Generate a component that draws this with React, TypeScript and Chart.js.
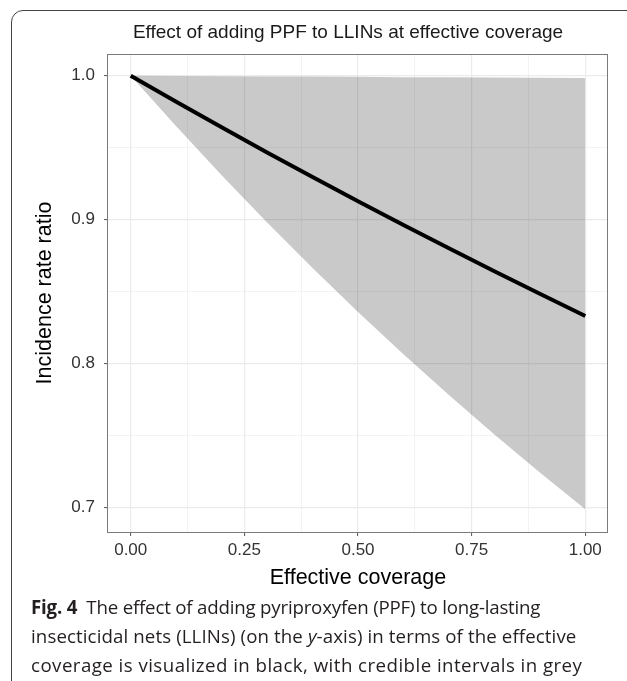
import React, { useEffect, useRef } from "react";
import { Chart, registerables } from "chart.js";

Chart.register(...registerables);

const chartTitle = "Effect of adding PPF to LLINs at effective coverage";
const xAxisTitle = "Effective coverage";
const yAxisTitle = "Incidence rate ratio";

const coverage = [0, 0.1, 0.2, 0.3, 0.4, 0.5, 0.6, 0.7, 0.8, 0.9, 1.0];
const irrMedian = [1.0, 0.9819, 0.9641, 0.9467, 0.9296, 0.9127, 0.8962, 0.88, 0.8641, 0.8484, 0.833];
const irrUpper = [1.0, 0.9998, 0.9997, 0.9995, 0.9994, 0.9992, 0.999, 0.9989, 0.9987, 0.9986, 0.9984];
const irrLower = [1.0, 0.9648, 0.9308, 0.898, 0.8663, 0.8358, 0.8064, 0.778, 0.7505, 0.7241, 0.6986];

const xMajorTicks = [0, 0.25, 0.5, 0.75, 1.0];
const xTickLabels = ["0.00", "0.25", "0.50", "0.75", "1.00"];
const xMinorTicks = [0.125, 0.375, 0.625, 0.875];
const yMajorTicks = [0.7, 0.8, 0.9, 1.0];
const yTickLabels = ["0.7", "0.8", "0.9", "1.0"];
const yMinorTicks = [0.75, 0.85, 0.95];

const FONT = "'Liberation Sans', Arial, Helvetica, sans-serif";

const isMajor = (list: number[], v: number) => list.some((m) => Math.abs(m - v) < 1e-9);
const labelFor = (list: number[], labels: string[], v: number) => {
  const i = list.findIndex((m) => Math.abs(m - v) < 1e-9);
  return i >= 0 ? labels[i] : "";
};

export default function App() {
  const ref = useRef<HTMLCanvasElement | null>(null);

  useEffect(() => {
    if (!ref.current) return;
    const deco = {
      id: "deco",
      afterDraw(chart: any) {
        const { ctx, chartArea: a } = chart;
        ctx.save();
        ctx.strokeStyle = "#7a7a7a";
        ctx.lineWidth = 1;
        ctx.strokeRect(a.left - 0.5, a.top + 0.5, a.right - a.left, a.bottom - a.top);
        ctx.fillStyle = "#1a1a1a";
        ctx.font = `19px ${FONT}`;
        ctx.textAlign = "center";
        ctx.textBaseline = "middle";
        ctx.fillText(chartTitle, 348, 33);
        ctx.restore();
      },
    };
    const chart = new Chart(ref.current, {
      type: "line",
      data: {
        datasets: [
          {
            label: "upper",
            data: coverage.map((x, i) => ({ x, y: irrUpper[i] })),
            fill: "+1",
            backgroundColor: "rgba(0,0,0,0.21)",
            borderColor: "rgba(0,0,0,0)",
            borderWidth: 0,
            pointRadius: 0,
            order: 2,
          },
          {
            label: "lower",
            data: coverage.map((x, i) => ({ x, y: irrLower[i] })),
            fill: false,
            borderColor: "rgba(0,0,0,0)",
            borderWidth: 0,
            pointRadius: 0,
            order: 3,
          },
          {
            label: "median",
            data: coverage.map((x, i) => ({ x, y: irrMedian[i] })),
            fill: false,
            borderColor: "#000000",
            borderWidth: 4,
            pointRadius: 0,
            borderCapStyle: "butt",
            order: 1,
          },
        ],
      },
      options: {
        animation: false,
        responsive: false,
        events: [],
        layout: { padding: { top: 54, right: 19, left: 0, bottom: 0 } },
        plugins: { legend: { display: false }, tooltip: { enabled: false }, title: { display: false } },
        scales: {
          x: {
            type: "linear",
            min: -0.05,
            max: 1.05,
            afterBuildTicks: (axis: any) => {
              axis.ticks = [...xMajorTicks, ...xMinorTicks].sort((a, b) => a - b).map((v) => ({ value: v }));
            },
            afterFit: (axis: any) => {
              axis.height = 68;
            },
            ticks: {
              autoSkip: false,
              maxRotation: 0,
              minRotation: 0,
              padding: 4,
              color: "#333333",
              font: { family: FONT, size: 17 },
              callback: (v: any) => labelFor(xMajorTicks, xTickLabels, Number(v)),
            },
            grid: {
              color: "#ebebeb",
              lineWidth: (c: any) => (c.tick && isMajor(xMajorTicks, c.tick.value) ? 1.2 : 0.6),
              tickLength: 4,
              tickWidth: 1,
              tickColor: (c: any) => (c.tick && isMajor(xMajorTicks, c.tick.value) ? "#555555" : "rgba(0,0,0,0)"),
            },
            border: { display: false },
            title: {
              display: true,
              text: xAxisTitle,
              color: "#000000",
              font: { family: FONT, size: 21.5, lineHeight: 1.2 },
              padding: { top: 0, bottom: 9 },
            },
          },
          y: {
            type: "linear",
            min: 0.6828,
            max: 1.0151,
            afterBuildTicks: (axis: any) => {
              axis.ticks = [...yMajorTicks, ...yMinorTicks].sort((a, b) => a - b).map((v) => ({ value: v }));
            },
            afterFit: (axis: any) => {
              axis.width = 108;
            },
            ticks: {
              autoSkip: false,
              padding: 9,
              color: "#333333",
              font: { family: FONT, size: 17 },
              callback: (v: any) => labelFor(yMajorTicks, yTickLabels, Number(v)),
            },
            grid: {
              color: "#ebebeb",
              lineWidth: (c: any) => (c.tick && isMajor(yMajorTicks, c.tick.value) ? 1.2 : 0.6),
              tickLength: 4,
              tickWidth: 1,
              tickColor: (c: any) => (c.tick && isMajor(yMajorTicks, c.tick.value) ? "#555555" : "rgba(0,0,0,0)"),
            },
            border: { display: false },
            title: {
              display: true,
              text: yAxisTitle,
              color: "#000000",
              font: { family: FONT, size: 21.5, lineHeight: 1.2 },
              padding: { top: 32.6, bottom: 0 },
            },
          },
        },
      },
      plugins: [deco],
    } as any);
    return () => chart.destroy();
  }, []);

  const capFont = "'Open Sans', 'Noto Sans', sans-serif";
  const lineStyle: React.CSSProperties = {
    position: "absolute",
    left: 31,
    whiteSpace: "nowrap",
    fontFamily: capFont,
    fontSize: 18.7,
    color: "#231f20",
    lineHeight: "24px",
  };

  return (
    <div style={{ position: "fixed", left: 0, top: 0, width: 627, height: 681, overflow: "hidden", background: "#fff" }}>
      <div
        style={{
          position: "absolute",
          left: 11,
          top: 10,
          width: 720,
          height: 720,
          border: "1px solid #444",
          borderRadius: 12,
          boxSizing: "border-box",
        }}
      />
      <canvas ref={ref} width={627} height={600} style={{ position: "absolute", left: 0, top: 0, width: 627, height: 600 }} />
      <div style={{ ...lineStyle, top: 595, letterSpacing: "-0.2px" }}>
        <span style={{ fontWeight: 700 }}>Fig. 4</span>
        <span>{"\u2002The effect of adding pyriproxyfen (PPF) to long-lasting"}</span>
      </div>
      <div style={{ ...lineStyle, top: 624, letterSpacing: "0.1px" }}>
        insecticidal nets (LLINs) (on the <i>y</i>-axis) in terms of the effective
      </div>
      <div style={{ ...lineStyle, top: 653, letterSpacing: "0.45px" }}>
        coverage is visualized in black, with credible intervals in grey
      </div>
    </div>
  );
}
